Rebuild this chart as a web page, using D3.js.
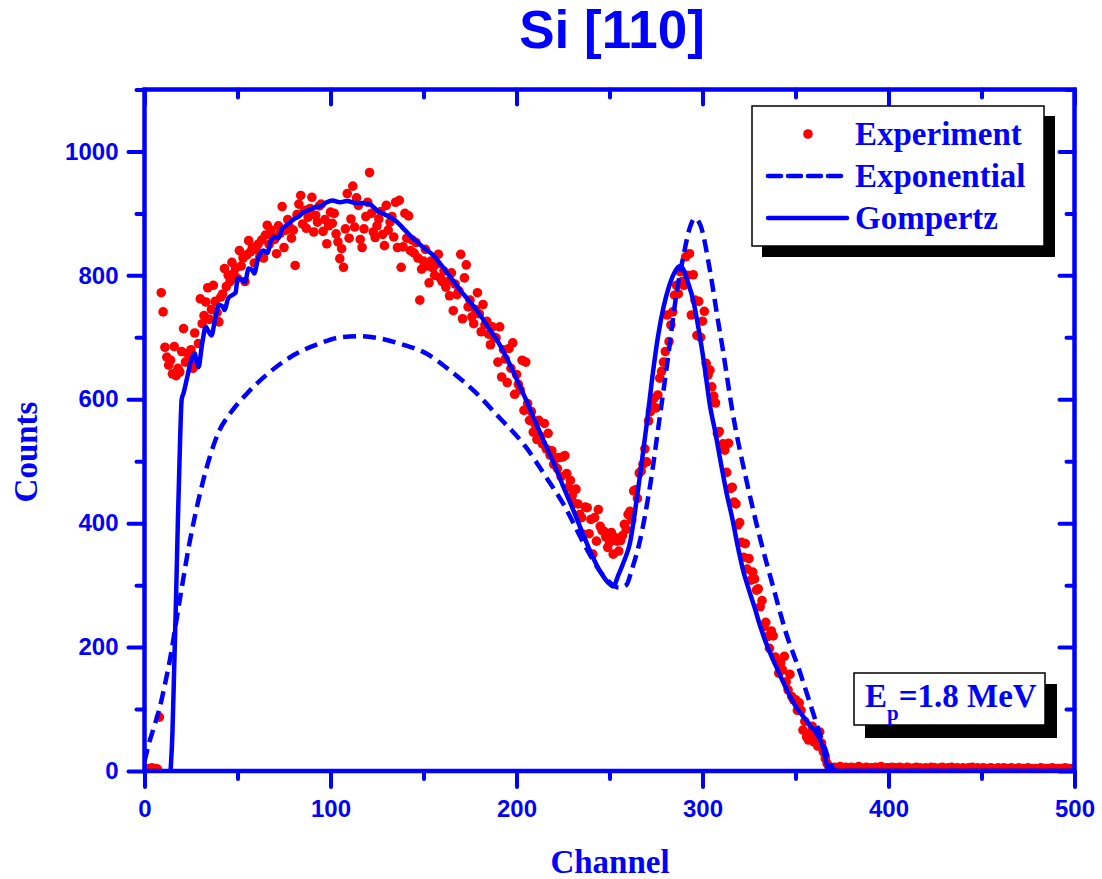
<!DOCTYPE html>
<html>
<head>
<meta charset="utf-8">
<script src="https://cdn.jsdelivr.net/npm/d3@7"></script>
<style>
  body { margin: 0; background: #fff; }
  svg { display: block; }
</style>
</head>
<body>
<svg></svg>
<script>
// experiment: counts per channel, channel = index
var expCounts = [
  3, 2, 4, 3, 5, 2, 4, 3, 87, 772,
  741, 684, 668, 655, 663, 641, 685, 638, 650, 644,
  677, 714, 660, 674, 662, 680, 650, 707, 655, 690,
  762, 722, 735, 757, 780, 729, 745, 784, 758, 740,
  725, 765, 770, 811, 782, 800, 790, 821, 803, 812,
  795, 840, 815, 828, 790, 833, 856, 838, 845, 820,
  842, 850, 830, 857, 828, 865, 881, 850, 873, 862,
  858, 835, 880, 868, 911, 845, 873, 890, 878, 860,
  873, 816, 898, 915, 929, 883, 905, 876, 894, 908,
  926, 870, 897, 886, 912, 915, 871, 890, 851, 880,
  902, 884, 900, 867, 854, 827, 843, 813, 875, 932,
  860, 891, 944, 878, 925, 913, 858, 845, 875, 895,
  918, 966, 900, 870, 861, 880, 891, 903, 866, 848,
  913, 873, 886, 895, 862, 918, 845, 921, 813, 846,
  900, 860, 896, 840, 857, 836, 853, 828, 760, 810,
  823, 842, 815, 788, 823, 812, 800, 818, 834, 796,
  790, 807, 781, 790, 767, 804, 743, 786, 769, 775,
  834, 730, 796, 817, 749, 760, 733, 722, 745, 772,
  738, 709, 753, 720, 726, 705, 688, 717, 700, 699,
  660, 717, 636, 680, 665, 627, 682, 650, 691, 608,
  640, 624, 615, 663, 582, 660, 593, 566, 580, 547,
  560, 535, 566, 540, 528, 561, 520, 545, 510, 517,
  495, 505, 488, 506, 475, 507, 509, 480, 458, 469,
  445, 432, 455, 431, 414, 409, 382, 426, 425, 383,
  406, 350, 409, 371, 422, 395, 388, 387, 378, 361,
  369, 385, 350, 377, 371, 355, 372, 380, 398, 390,
  414, 419, 405, 452, 454, 440, 481, 484, 495, 520,
  499, 565, 580, 590, 602, 586, 607, 634, 645, 660,
  677, 736, 693, 720, 741, 768, 784, 770, 806, 790,
  784, 830, 800, 835, 736, 801, 760, 703, 758, 700,
  726, 742, 658, 639, 647, 620, 605, 594, 545, 548,
  523, 528, 518, 482, 529, 456, 458, 434, 431, 397,
  401, 369, 345, 367, 326, 343, 308, 321, 310, 292,
  294, 265, 275, 233, 240, 217, 198, 226, 218, 184,
  176, 158, 174, 163, 185, 144, 131, 156, 120, 115,
  115, 98, 110, 98, 66, 80, 55, 50, 61, 72,
  47, 58, 40, 63, 45, 31, 20, 12, 7, 5,
  4, 6, 3, 5, 7, 4, 3, 6, 5, 4,
  6, 3, 5, 4, 7, 5, 3, 4, 6, 5,
  4, 5, 3, 6, 4, 5, 7, 4, 3, 5,
  5, 4, 6, 3, 5, 4, 6, 5, 3, 4,
  6, 5, 4, 3, 5, 6, 4, 5, 3, 4,
  5, 3, 4, 6, 4, 5, 3, 4, 5, 6,
  4, 3, 5, 4, 6, 3, 4, 5, 4, 3,
  5, 4, 3, 5, 4, 6, 3, 4, 5, 3,
  4, 5, 3, 4, 3, 5, 4, 3, 4, 5,
  3, 4, 5, 3, 4, 3, 5, 4, 3, 4,
  5, 3, 4, 3, 4, 5, 3, 4, 3, 4,
  3, 4, 5, 3, 4, 3, 4, 3, 5, 4,
  3, 4, 3, 4, 3, 5, 3, 4, 3, 4
];

var expoCh = [0, 2, 5, 8, 11, 14, 17, 20, 24, 29, 35, 40, 46, 55, 67, 80, 94, 105, 116, 127, 137,
  152, 164, 177, 190, 205, 216, 225, 238, 245, 250, 255, 259, 262, 266, 272, 277, 281, 286, 290, 293,
  296, 299, 304, 308, 311, 316, 324, 331, 338, 345, 352, 359, 363, 366, 369, 372, 500];
var expoVal = [15, 40, 70, 100, 140, 185, 240, 295, 365, 437, 506, 548, 577, 609, 643, 671, 690, 700, 702, 698, 690,
  673, 647, 614, 573, 523, 474, 432, 357, 322, 305, 296, 300, 325, 367, 464, 571, 657, 770, 835, 875,
  892, 880, 808, 733, 679, 582, 464, 375, 297, 222, 163, 98, 61, 35, 10, 0, 0];

var gompCh = [14, 15, 16, 17, 18, 19, 20, 21, 23, 25, 27, 28, 29, 31, 33, 34, 36, 38, 40, 42,
  43, 45, 47, 49, 50, 52, 54, 56, 58, 59, 61, 63, 64, 66, 68, 70, 72, 74, 76, 78,
  80, 83, 86, 89, 92, 95, 98, 101, 105, 109, 113, 117, 121, 125, 130, 135, 140, 145, 150, 155,
  160, 165, 170, 175, 180, 185, 190, 195, 200, 205, 210, 215, 220, 225, 230, 235, 240, 245, 250, 252,
  255, 258, 261, 264, 267, 270, 273, 276, 279, 282, 285, 288, 290, 292, 295, 298, 301, 304, 307, 310,
  313, 316, 319, 322, 325, 328, 331, 334, 337, 340, 343, 346, 349, 352, 355, 358, 361, 364, 366, 368, 500];
var gompVal = [0, 60, 170, 285, 410, 520, 600, 610, 636, 662, 674, 660, 652, 690, 717, 712, 703, 730, 752, 750,
  744, 763, 768, 772, 795, 794, 789, 811, 808, 803, 827, 838, 840, 836, 856, 862, 860, 875, 880, 885,
  890, 895, 903, 906, 910, 912, 918, 921, 918, 920, 917, 917, 915, 905, 897, 888, 873, 858, 845, 833,
  815, 795, 775, 757, 738, 715, 693, 665, 633, 600, 565, 530, 497, 460, 425, 388, 352, 322, 302, 298,
  318, 340, 368, 425, 490, 560, 635, 700, 748, 782, 805, 815, 808, 790, 760, 712, 655, 590, 545, 495,
  448, 408, 362, 322, 292, 264, 234, 208, 186, 166, 146, 127, 110, 96, 85, 73, 62, 45, 22, 0, 0];

var xMajor = [0, 100, 200, 300, 400, 500];
var xMinor = [50, 150, 250, 350, 450];
var yMajor = [0, 200, 400, 600, 800, 1000];
var yMinor = [100, 300, 500, 700, 900, 1100];
var legendNames = ['Experiment', 'Exponential', 'Gompertz'];

var width = 1102;
var height = 879;
var blue = '#0000ff';
var red = '#ff0000';
var sans = "'Liberation Sans', Arial, sans-serif";
var serif = "'Liberation Serif', 'Times New Roman', serif";

var x = d3.scaleLinear().domain([0, 500]).range([144.5, 1074.5]);
var y = d3.scaleLinear().domain([0, 1100]).range([771, 89.5]);

var svg = d3.select('svg')
  .attr('width', width)
  .attr('height', height);

svg.append('defs').append('clipPath')
  .attr('id', 'plot-clip')
  .append('rect')
  .attr('x', x(0)).attr('y', y(1100))
  .attr('width', x(500) - x(0)).attr('height', y(0) - y(1100));

var plot = svg.append('g').attr('clip-path', 'url(#plot-clip)');

// experiment dots
plot.selectAll('.dot')
  .data(expCounts)
  .enter()
  .append('circle')
  .attr('class', 'dot')
  .attr('cx', function(d, i) { return x(i); })
  .attr('cy', function(d) { return y(d); })
  .attr('r', 4.8)
  .attr('fill', red);

var line = d3.line()
  .x(function(d) { return x(d[0]); })
  .y(function(d) { return y(d[1]); })
  .curve(d3.curveMonotoneX);

plot.append('path')
  .datum(d3.zip(expoCh, expoVal))
  .attr('d', line)
  .attr('fill', 'none')
  .attr('stroke', blue)
  .attr('stroke-width', 4.5)
  .attr('stroke-dasharray', '13,7');

plot.append('path')
  .datum(d3.zip(gompCh, gompVal))
  .attr('d', line)
  .attr('fill', 'none')
  .attr('stroke', blue)
  .attr('stroke-width', 4.5)
  .attr('stroke-linejoin', 'round');

// axes
function styleAxis(g) {
  g.select('.domain').remove();
  g.selectAll('.tick line')
    .attr('stroke', blue)
    .attr('stroke-width', 4)
    .attr('stroke-linecap', 'round');
  g.selectAll('.tick text')
    .attr('fill', blue)
    .style('font-family', sans)
    .style('font-weight', 'bold')
    .style('font-size', '24px');
}

var noLabel = function() { return ''; };

svg.append('g')
  .attr('transform', 'translate(0,' + y(0) + ')')
  .call(d3.axisBottom(x).tickValues(xMajor).tickSize(16).tickPadding(13).tickFormat(d3.format('d')))
  .call(styleAxis);
svg.append('g')
  .attr('transform', 'translate(0,' + y(0) + ')')
  .call(d3.axisBottom(x).tickValues(xMinor).tickSize(8).tickFormat(noLabel))
  .call(styleAxis);
svg.append('g')
  .attr('transform', 'translate(0,' + y(1100) + ')')
  .call(d3.axisBottom(x).tickValues(xMajor).tickSize(15).tickFormat(noLabel))
  .call(styleAxis);
svg.append('g')
  .attr('transform', 'translate(0,' + y(1100) + ')')
  .call(d3.axisBottom(x).tickValues(xMinor).tickSize(8).tickFormat(noLabel))
  .call(styleAxis);

svg.append('g')
  .attr('transform', 'translate(' + x(0) + ',0)')
  .call(d3.axisLeft(y).tickValues(yMajor).tickSize(16).tickPadding(10).tickFormat(d3.format('d')))
  .call(styleAxis);
svg.append('g')
  .attr('transform', 'translate(' + x(0) + ',0)')
  .call(d3.axisLeft(y).tickValues(yMinor).tickSize(8).tickFormat(noLabel))
  .call(styleAxis);
svg.append('g')
  .attr('transform', 'translate(' + x(500) + ',0)')
  .call(d3.axisLeft(y).tickValues(yMajor).tickSize(15).tickFormat(noLabel))
  .call(styleAxis);
svg.append('g')
  .attr('transform', 'translate(' + x(500) + ',0)')
  .call(d3.axisLeft(y).tickValues(yMinor).tickSize(8).tickFormat(noLabel))
  .call(styleAxis);

// frame
svg.append('rect')
  .attr('x', x(0)).attr('y', y(1100))
  .attr('width', x(500) - x(0)).attr('height', y(0) - y(1100))
  .attr('fill', 'none')
  .attr('stroke', blue)
  .attr('stroke-width', 4.5);

// titles
svg.append('text')
  .attr('x', 612).attr('y', 48)
  .attr('text-anchor', 'middle')
  .attr('fill', blue)
  .style('font-family', sans)
  .style('font-weight', 'bold')
  .style('font-size', '53px')
  .text('Si [110]');

svg.append('text')
  .attr('x', 610).attr('y', 873)
  .attr('text-anchor', 'middle')
  .attr('fill', blue)
  .style('font-family', serif)
  .style('font-weight', 'bold')
  .style('font-size', '33px')
  .text('Channel');

svg.append('text')
  .attr('transform', 'translate(37,452) rotate(-90)')
  .attr('text-anchor', 'middle')
  .attr('fill', blue)
  .style('font-family', serif)
  .style('font-weight', 'bold')
  .style('font-size', '33px')
  .text('Counts');

// legend
var legend = svg.append('g');
legend.append('rect')
  .attr('x', 762).attr('y', 116).attr('width', 293).attr('height', 141)
  .attr('fill', '#000');
legend.append('rect')
  .attr('x', 752).attr('y', 106).attr('width', 292).attr('height', 140)
  .attr('fill', '#fff').attr('stroke', '#000').attr('stroke-width', 1.5);

var rowY = [134, 176, 218];
legend.append('circle')
  .attr('cx', 808).attr('cy', rowY[0]).attr('r', 4.8).attr('fill', red);
legend.append('line')
  .attr('x1', 768).attr('x2', 847).attr('y1', rowY[1]).attr('y2', rowY[1])
  .attr('stroke', blue).attr('stroke-width', 4.5)
  .attr('stroke-dasharray', '13,7').attr('stroke-linecap', 'round');
legend.append('line')
  .attr('x1', 768).attr('x2', 847).attr('y1', rowY[2]).attr('y2', rowY[2])
  .attr('stroke', blue).attr('stroke-width', 4.5).attr('stroke-linecap', 'round');

legend.selectAll('.legend-label')
  .data(legendNames)
  .enter()
  .append('text')
  .attr('class', 'legend-label')
  .attr('x', 855)
  .attr('y', function(d, i) { return rowY[i] + 11; })
  .attr('fill', blue)
  .style('font-family', serif)
  .style('font-weight', 'bold')
  .style('font-size', '33px')
  .text(function(d) { return d; });

// energy note
var note = svg.append('g');
note.append('rect')
  .attr('x', 865).attr('y', 684).attr('width', 192).attr('height', 54)
  .attr('fill', '#000');
note.append('rect')
  .attr('x', 854).attr('y', 673).attr('width', 191).attr('height', 52)
  .attr('fill', '#fff').attr('stroke', '#000').attr('stroke-width', 1.5);
var noteText = note.append('text')
  .attr('x', 865).attr('y', 707)
  .attr('fill', blue)
  .style('font-family', serif)
  .style('font-weight', 'bold')
  .style('font-size', '33px');
noteText.append('tspan').text('E');
noteText.append('tspan').attr('dy', 13).style('font-size', '21px').text('p');
noteText.append('tspan').attr('dy', -13).text('=1.8 MeV');
</script>
</body>
</html>
